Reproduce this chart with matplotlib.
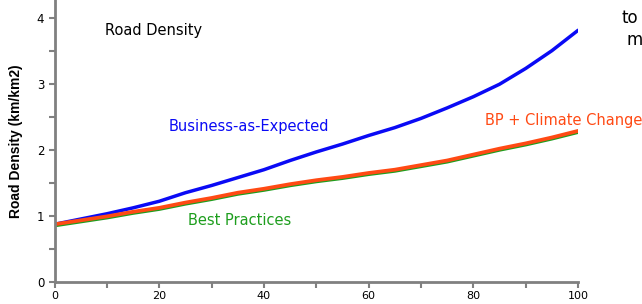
import matplotlib
matplotlib.use('Agg')
import matplotlib.pyplot as plt
from matplotlib.ticker import MultipleLocator

plt.rcParams['font.family'] = 'DejaVu Sans'

# Data
years = [0, 5, 10, 15, 20, 25, 30, 35, 40, 45, 50,
         55, 60, 65, 70, 75, 80, 85, 90, 95, 100]
bae = [0.87, 0.95, 1.03, 1.12, 1.22, 1.35, 1.46, 1.58, 1.70, 1.84, 1.97,
       2.09, 2.22, 2.34, 2.48, 2.64, 2.81, 3.00, 3.24, 3.51, 3.82]
best = [0.85, 0.91, 0.97, 1.04, 1.10, 1.18, 1.25, 1.33, 1.39, 1.46, 1.52,
        1.57, 1.63, 1.68, 1.75, 1.82, 1.91, 2.00, 2.08, 2.17, 2.27]
bp_cc = [0.87, 0.93, 0.99, 1.06, 1.12, 1.20, 1.27, 1.35, 1.41, 1.48, 1.54,
         1.59, 1.65, 1.70, 1.77, 1.84, 1.93, 2.02, 2.10, 2.19, 2.29]

BLUE = '#0A0AF5'
GREEN = '#1E9E1E'
RED = '#FF4A14'
AXIS = '#808080'

fig = plt.figure(figsize=(6.42, 3.04), dpi=100)
ax = fig.add_axes([0.085, 0.074, 0.8155, 0.926])

ax.plot(years, bae, color=BLUE, lw=2.5, solid_capstyle='round')
ax.plot(years, best, color=GREEN, lw=2.5, solid_capstyle='round')
ax.plot(years, bp_cc, color=RED, lw=2.7, solid_capstyle='round')

ax.set_xlim(0, 100)
ax.set_ylim(0, 4.28)

for s in ['top', 'right']:
    ax.spines[s].set_visible(False)
for s in ['left', 'bottom']:
    ax.spines[s].set_color(AXIS)
    ax.spines[s].set_linewidth(2)

ax.xaxis.set_major_locator(MultipleLocator(20))
ax.xaxis.set_minor_locator(MultipleLocator(10))
ax.yaxis.set_major_locator(MultipleLocator(1))
ax.yaxis.set_minor_locator(MultipleLocator(0.5))
ax.tick_params(which='both', direction='out', color=AXIS, width=1.5,
               length=4, labelsize=8.5, labelcolor='black')
ax.tick_params(axis='x', labelsize=8, pad=2.5)

ax.set_ylabel('Road Density (km/km2)', fontsize=10, fontweight='bold',
              family='Liberation Sans', labelpad=10)

# In-chart labels
ax.text(9.6, 3.81, 'Road Density', fontsize=10.5, color='black',
        va='center', ha='left')
ax.text(21.7, 2.35, 'Business-as-Expected', fontsize=10.5, color=BLUE,
        va='center', ha='left')
ax.text(25.5, 0.93, 'Best Practices', fontsize=10.5, color=GREEN,
        va='center', ha='left')
ax.text(82.2, 2.45, 'BP + Climate Change', fontsize=10.5, color=RED,
        va='center', ha='left', clip_on=False)

# Cut-off text at the right edge of the slide
fig.text(621 / 642, 1 - 18 / 304, 'to', fontsize=12, va='center', ha='left')
fig.text(627 / 642, 1 - 40 / 304, 'm', fontsize=12, va='center', ha='left')

fig.savefig('out.png', dpi=100, facecolor='white')
